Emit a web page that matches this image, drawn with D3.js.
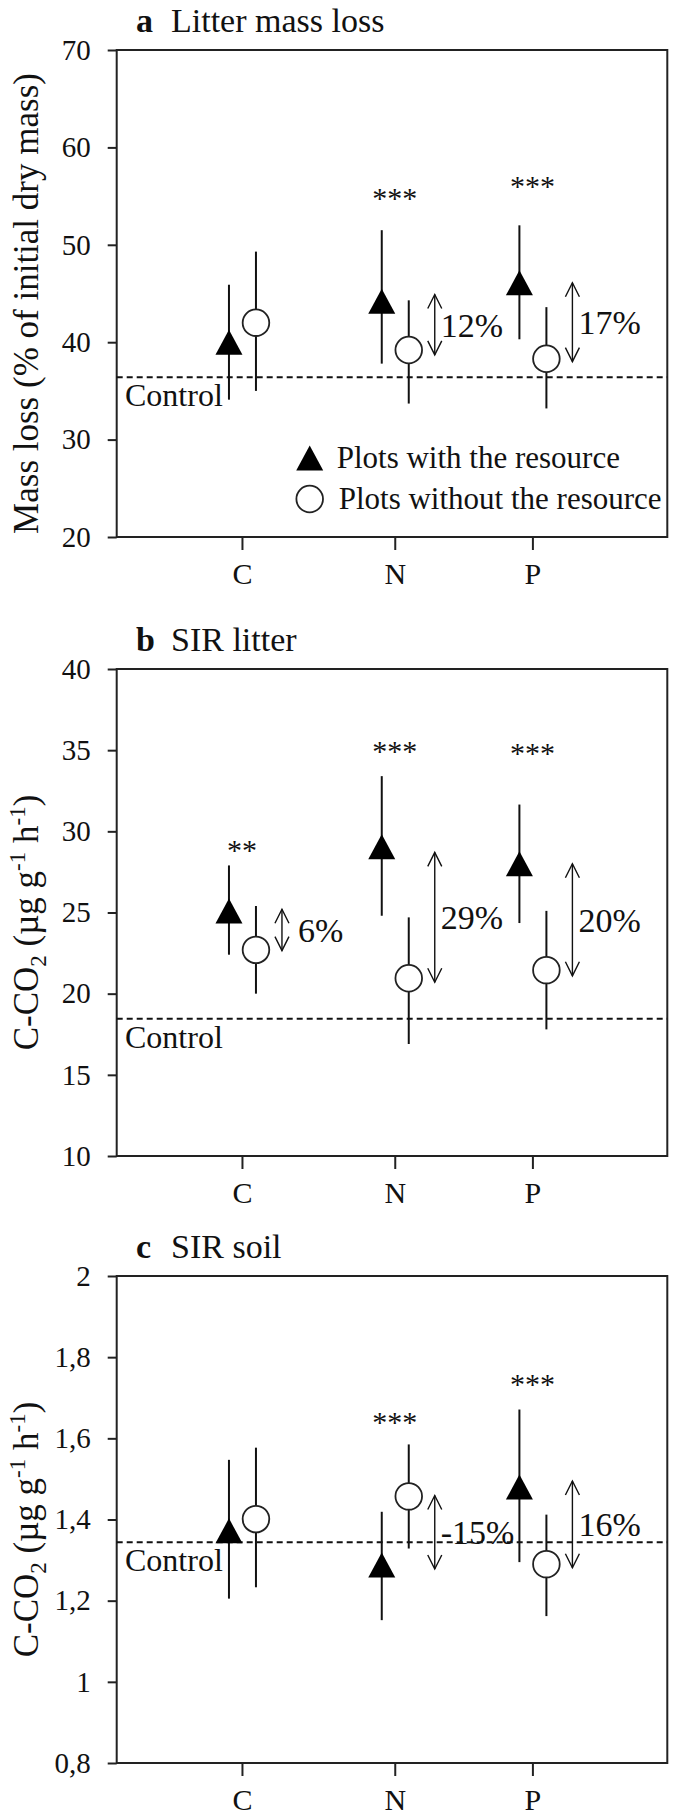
<!DOCTYPE html>
<html>
<head>
<meta charset="utf-8">
<script src="https://cdn.jsdelivr.net/npm/d3@7"></script>
<style>
  html, body { margin: 0; padding: 0; background: #fff; }
  svg { display: block; }
  text { font-family: "Liberation Serif", "Times New Roman", serif; fill: #111; }
</style>
</head>
<body>
<svg id="chart" width="676" height="1817"></svg>
<script>
// ---------------- DATA ----------------
const categories = ["C", "N", "P"];
const catPos = [0.91, 2.02, 3.02];          // category positions on a 0..4 axis

// Panel a: Litter mass loss (%)
const aTicks = [20, 30, 40, 50, 60, 70];
const aTickLabels = ["20", "30", "40", "50", "60", "70"];
const aWithMean = [40.0, 44.2, 46.1];
const aWithLo = [34.1, 37.8, 40.3];
const aWithHi = [45.9, 51.5, 52.0];
const aWithoutMean = [42.0, 39.2, 38.3];
const aWithoutLo = [35.0, 33.7, 33.2];
const aWithoutHi = [49.3, 44.3, 43.6];
const aControl = 36.4;
const aStars = ["", "***", "***"];
const aStarY = [null, 55.2, 56.4];
const aArrowCat = [1, 2];
const aArrowFrom = [44.9, 46.1];
const aArrowTo = [38.7, 38.0];
const aArrowLabel = ["12%", "17%"];

// Panel b: SIR litter
const bTicks = [10, 15, 20, 25, 30, 35, 40];
const bTickLabels = ["10", "15", "20", "25", "30", "35", "40"];
const bWithMean = [25.1, 29.05, 28.0];
const bWithLo = [22.4, 24.8, 24.35];
const bWithHi = [27.9, 33.4, 31.65];
const bWithoutMean = [22.7, 20.95, 21.45];
const bWithoutLo = [20.0, 16.9, 17.8];
const bWithoutHi = [25.4, 24.7, 25.1];
const bControl = 18.45;
const bStars = ["**", "***", "***"];
const bStarY = [29.1, 35.2, 35.1];
const bArrowCat = [0, 1, 2];
const bArrowFrom = [25.2, 28.7, 28.0];
const bArrowTo = [22.65, 20.7, 21.1];
const bArrowLabel = ["6%", "29%", "20%"];

// Panel c: SIR soil
const cTicks = [0.8, 1.0, 1.2, 1.4, 1.6, 1.8, 2.0];
const cTickLabels = ["0,8", "1", "1,2", "1,4", "1,6", "1,8", "2"];
const cWithMean = [1.372, 1.288, 1.48];
const cWithLo = [1.205, 1.152, 1.295];
const cWithHi = [1.547, 1.419, 1.671];
const cWithoutMean = [1.401, 1.457, 1.29];
const cWithoutLo = [1.233, 1.3285, 1.162];
const cWithoutHi = [1.577, 1.585, 1.412];
const cControl = 1.344;
const cStars = ["", "***", "***"];
const cStarY = [null, 1.651, 1.744];
const cArrowCat = [1, 2];
const cArrowFrom = [1.459, 1.495];
const cArrowTo = [1.278, 1.281];
const cArrowLabel = ["-15%", "16%"];

const legendLabels = ["Plots with the resource", "Plots without the resource"];
const controlLabel = "Control";

// ---------------- LAYOUT ----------------
const svg = d3.select("#chart");
const frameLeft = 116.7, frameRight = 667.3, frameH = 487;
const x = d3.scaleLinear().domain([0, 4]).range([frameLeft, frameRight]);
const triOff = -13, circOff = 14;

const panels = [
  { top: 50, letter: "a", title: "Litter mass loss", domain: [20, 70], ticks: aTicks, tickLabels: aTickLabels,
    ylab: "mass", wm: aWithMean, wl: aWithLo, wh: aWithHi, om: aWithoutMean, ol: aWithoutLo, oh: aWithoutHi,
    control: aControl, stars: aStars, starY: aStarY, arrCat: aArrowCat, arrFrom: aArrowFrom, arrTo: aArrowTo,
    arrLab: aArrowLabel, legend: true },
  { top: 669, letter: "b", title: "SIR litter", domain: [10, 40], ticks: bTicks, tickLabels: bTickLabels,
    ylab: "co2", wm: bWithMean, wl: bWithLo, wh: bWithHi, om: bWithoutMean, ol: bWithoutLo, oh: bWithoutHi,
    control: bControl, stars: bStars, starY: bStarY, arrCat: bArrowCat, arrFrom: bArrowFrom, arrTo: bArrowTo,
    arrLab: bArrowLabel, legend: false },
  { top: 1276, letter: "c", title: "SIR soil", domain: [0.8, 2.0], ticks: cTicks, tickLabels: cTickLabels,
    ylab: "co2", wm: cWithMean, wl: cWithLo, wh: cWithHi, om: cWithoutMean, ol: cWithoutLo, oh: cWithoutHi,
    control: cControl, stars: cStars, starY: cStarY, arrCat: cArrowCat, arrFrom: cArrowFrom, arrTo: cArrowTo,
    arrLab: cArrowLabel, legend: false }
];

function triPath(cx, cy) {
  return `M${cx},${cy - 12.5}L${cx + 13.5},${cy + 12.5}L${cx - 13.5},${cy + 12.5}Z`;
}

panels.forEach(p => {
  const bottom = p.top + frameH;
  const y = d3.scaleLinear().domain(p.domain).range([bottom, p.top]);
  const g = svg.append("g");

  // title
  const t = g.append("text").attr("x", 136).attr("y", p.top - 18).attr("font-size", 34);
  t.append("tspan").attr("font-weight", "bold").text(p.letter);
  t.append("tspan").attr("x", 171).text(p.title);

  // frame
  g.append("rect").attr("x", frameLeft).attr("y", p.top)
    .attr("width", frameRight - frameLeft).attr("height", frameH)
    .attr("fill", "none").attr("stroke", "#222").attr("stroke-width", 2);

  // y axis
  const yAxis = d3.axisLeft(y).tickValues(p.ticks).tickSize(9).tickPadding(17)
    .tickFormat((d, i) => p.tickLabels[i]);
  const ya = g.append("g").attr("transform", `translate(${frameLeft},0)`).call(yAxis);
  ya.select(".domain").remove();
  ya.selectAll(".tick line").attr("stroke", "#222").attr("stroke-width", 2);
  ya.selectAll(".tick text").attr("font-size", 29).attr("fill", "#111");

  // x axis
  const xAxis = d3.axisBottom(x).tickValues(catPos).tickSize(13).tickPadding(13)
    .tickFormat((d, i) => categories[i]);
  const xa = g.append("g").attr("transform", `translate(0,${bottom})`).call(xAxis);
  xa.select(".domain").remove();
  xa.selectAll(".tick line").attr("stroke", "#222").attr("stroke-width", 2);
  xa.selectAll(".tick text").attr("font-size", 30).attr("fill", "#111");

  // y label
  const cy = (p.top + bottom) / 2 + 10;
  const yl = g.append("text").attr("transform", `translate(38,${cy}) rotate(-90)`)
    .attr("text-anchor", "middle").attr("font-size", 35);
  if (p.ylab === "mass") {
    yl.text("Mass loss (% of initial dry mass)");
  } else {
    yl.append("tspan").text("C-CO");
    yl.append("tspan").attr("font-size", 23).attr("dy", 8).text("2");
    yl.append("tspan").attr("dy", -8).text(" (\u00b5g g");
    yl.append("tspan").attr("font-size", 23).attr("dy", -13).text("-1");
    yl.append("tspan").attr("dy", 13).text(" h");
    yl.append("tspan").attr("font-size", 23).attr("dy", -13).text("-1");
    yl.append("tspan").attr("dy", 13).text(")");
  }

  // control line
  g.append("line").attr("x1", frameLeft).attr("x2", frameRight)
    .attr("y1", y(p.control)).attr("y2", y(p.control))
    .attr("stroke", "#111").attr("stroke-width", 2).attr("stroke-dasharray", "6,4");
  g.append("text").attr("x", 125).attr("y", y(p.control) + 29).attr("font-size", 32).text(controlLabel);

  // error bars
  const idx = d3.range(categories.length);
  g.selectAll(".ebw").data(idx).join("line")
    .attr("x1", i => x(catPos[i]) + triOff).attr("x2", i => x(catPos[i]) + triOff)
    .attr("y1", i => y(p.wh[i])).attr("y2", i => y(p.wl[i]))
    .attr("stroke", "#111").attr("stroke-width", 2);
  g.selectAll(".ebo").data(idx).join("line")
    .attr("x1", i => x(catPos[i]) + circOff).attr("x2", i => x(catPos[i]) + circOff)
    .attr("y1", i => y(p.oh[i])).attr("y2", i => y(p.ol[i]))
    .attr("stroke", "#111").attr("stroke-width", 2);

  // markers
  g.selectAll(".tri").data(idx).join("path")
    .attr("d", i => triPath(x(catPos[i]) + triOff, y(p.wm[i])))
    .attr("fill", "#000");
  g.selectAll(".circ").data(idx).join("circle")
    .attr("cx", i => x(catPos[i]) + circOff).attr("cy", i => y(p.om[i])).attr("r", 13.3)
    .attr("fill", "#fff").attr("stroke", "#222").attr("stroke-width", 1.8);

  // stars
  idx.forEach(i => {
    if (!p.stars[i]) return;
    g.append("text").attr("x", x(catPos[i])).attr("y", y(p.starY[i]) + 14)
      .attr("text-anchor", "middle").attr("font-size", 30).text(p.stars[i]);
  });

  // arrows
  p.arrCat.forEach((ci, k) => {
    const ax = x(catPos[ci]) + 40;
    const y1 = y(p.arrFrom[k]), y2 = y(p.arrTo[k]);
    g.append("line").attr("x1", ax).attr("x2", ax).attr("y1", y1).attr("y2", y2)
      .attr("stroke", "#111").attr("stroke-width", 1.4);
    g.append("path").attr("d", `M${ax - 7},${y1 + 14}L${ax},${y1}L${ax + 7},${y1 + 14}`)
      .attr("fill", "none").attr("stroke", "#111").attr("stroke-width", 1.4);
    g.append("path").attr("d", `M${ax - 7},${y2 - 14}L${ax},${y2}L${ax + 7},${y2 - 14}`)
      .attr("fill", "none").attr("stroke", "#111").attr("stroke-width", 1.4);
    const lbl = p.arrLab[k];
    g.append("text").attr("x", ax + (lbl.length < 3 ? 16 : 6)).attr("y", (y1 + y2) / 2).attr("dy", "0.35em")
      .attr("font-size", 34).text(lbl);
  });

  // legend
  if (p.legend) {
    const lx = frameLeft + 193;
    const ly1 = bottom - 79, ly2 = bottom - 38;
    g.append("path").attr("d", triPath(lx, ly1)).attr("fill", "#000");
    g.append("circle").attr("cx", lx).attr("cy", ly2).attr("r", 13.3)
      .attr("fill", "#fff").attr("stroke", "#222").attr("stroke-width", 1.8);
    g.append("text").attr("x", lx + 27).attr("y", ly1).attr("dy", "0.32em")
      .attr("font-size", 31).text(legendLabels[0]);
    g.append("text").attr("x", lx + 29).attr("y", ly2).attr("dy", "0.32em")
      .attr("font-size", 31).text(legendLabels[1]);
  }
});
</script>
</body>
</html>
